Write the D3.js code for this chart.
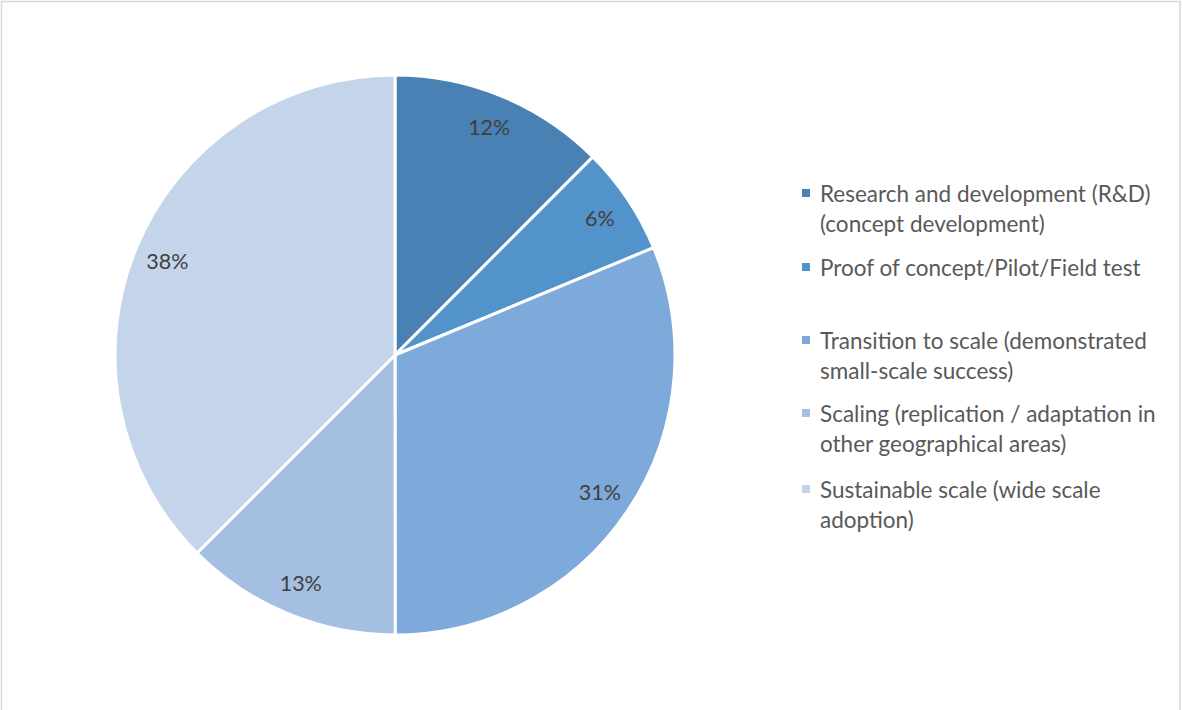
<!DOCTYPE html>
<html>
<head>
<meta charset="utf-8">
<script src="https://cdn.jsdelivr.net/npm/d3@7"></script>
<style>
  html, body { margin: 0; padding: 0; background: #fff; }
  svg { display: block; }
</style>
</head>
<body>
<svg id="chart" width="1182" height="710"></svg>
<script>
// Share of initiatives by stage of scaling (percent)
const stages = [
  "Research and development (R&D) (concept development)",
  "Proof of concept/Pilot/Field test",
  "Transition to scale (demonstrated small-scale success)",
  "Scaling (replication / adaptation in other geographical areas)",
  "Sustainable scale (wide scale adoption)"
];
const legendLines = [
  ["Research and development (R&D)", "(concept development)"],
  ["Proof of concept/Pilot/Field test"],
  ["Transition to scale (demonstrated", "small-scale success)"],
  ["Scaling (replication / adaptation in", "other geographical areas)"],
  ["Sustainable scale (wide scale", "adoption)"]
];
const shares = [12.49, 6.25, 31.25, 12.51, 37.5];
const palette = ["#4a81b4", "#5393cb", "#7daadb", "#a5bfe3", "#c4d4ea"];

const svg = d3.select("#chart");
const font = "Lato, 'Open Sans', sans-serif";

// outer frame
svg.append("rect")
  .attr("x", 1.5).attr("y", 1.5)
  .attr("width", 1178.5).attr("height", 740)
  .attr("fill", "none").attr("stroke", "#d9d9d9").attr("stroke-width", 1.5);

const cx = 395, cy = 355, radius = 280;
const color = d3.scaleOrdinal().domain(stages).range(palette);
const pct = v => Math.round(v) + "%";

const pie = d3.pie().sort(null).value(d => d.value);
const data = pie(stages.map((s, i) => ({ stage: s, value: shares[i] })));
const arc = d3.arc().innerRadius(0).outerRadius(radius);
const labelArc = d3.arc().innerRadius(radius * 0.88).outerRadius(radius * 0.88);

const g = svg.append("g").attr("transform", `translate(${cx},${cy})`);

g.selectAll("path.slice")
  .data(data)
  .join("path")
  .attr("class", "slice")
  .attr("d", arc)
  .attr("fill", d => color(d.data.stage))
  .attr("stroke", "#fff")
  .attr("stroke-width", 3)
  .attr("stroke-linejoin", "round");

g.selectAll("text.pct")
  .data(data)
  .join("text")
  .attr("class", "pct")
  .attr("transform", d => `translate(${labelArc.centroid(d)})`)
  .attr("text-anchor", "middle")
  .attr("dominant-baseline", "central")
  .attr("font-family", font)
  .attr("font-size", 21.5)
  .attr("fill", "#404040")
  .text(d => pct(d.data.value));

// legend
const legendTop = [193, 267, 340, 413, 489];
const lineH = 29.5;
const legend = svg.append("g");
stages.forEach((s, i) => {
  const y0 = legendTop[i];
  legend.append("rect")
    .attr("x", 802).attr("y", y0 - 4)
    .attr("width", 8).attr("height", 8)
    .attr("fill", color(s));
  const t = legend.append("text")
    .attr("x", 820).attr("y", y0)
    .attr("dominant-baseline", "central")
    .attr("font-family", font)
    .attr("font-size", 22.5)
    .attr("fill", "#595959");
  legendLines[i].forEach((ln, j) => {
    t.append("tspan").attr("x", 820).attr("y", y0 + j * lineH).text(ln);
  });
});
</script>
</body>
</html>
